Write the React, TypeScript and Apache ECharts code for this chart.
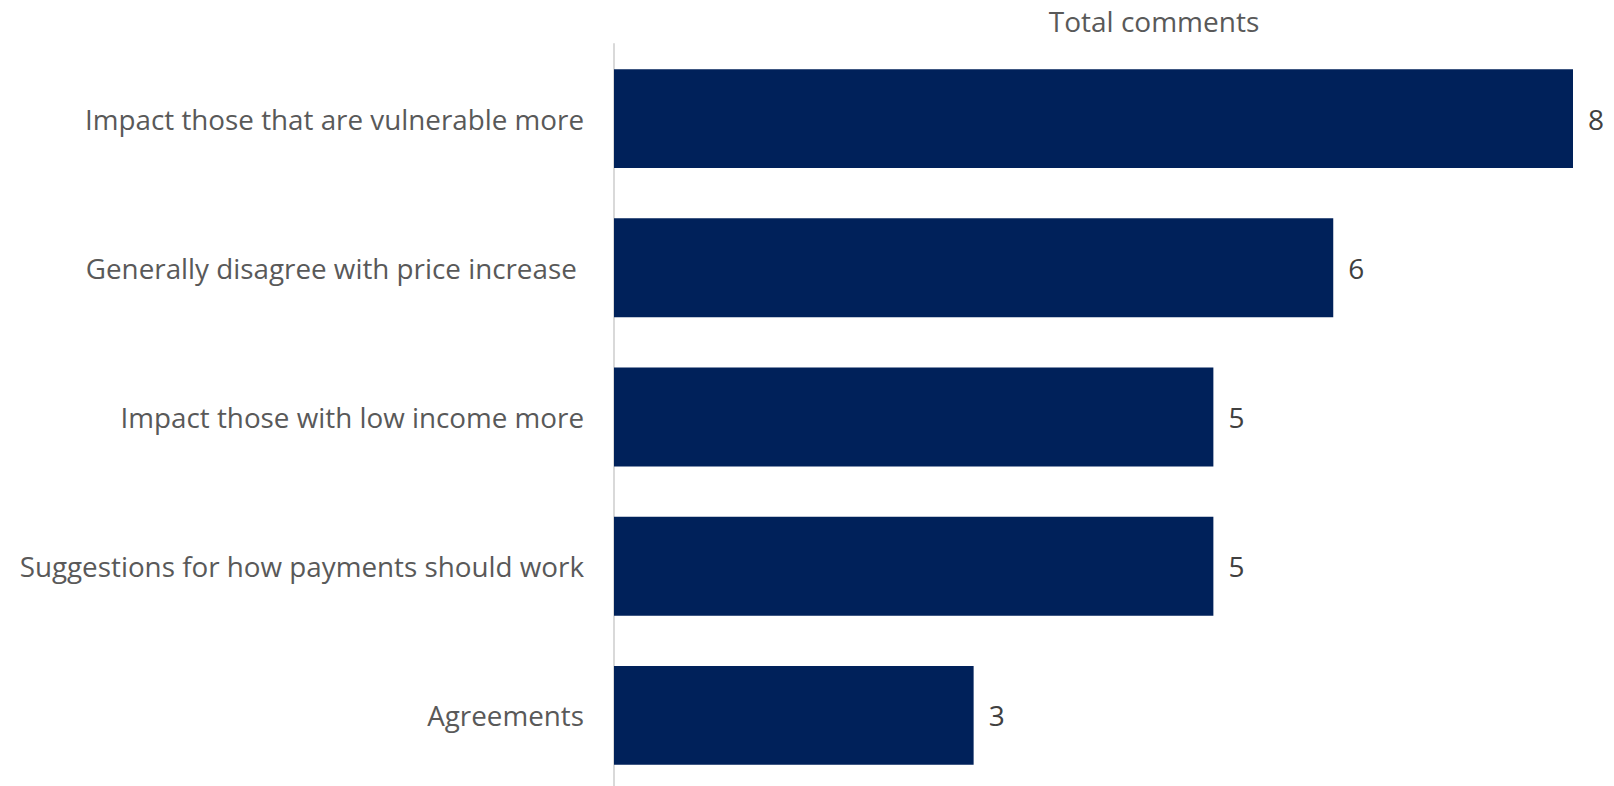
import React, { useEffect, useRef } from "react";
import * as echarts from "echarts";

const categories = [
  "Impact those that are vulnerable more",
  "Generally disagree with price increase ",
  "Impact those with low income more",
  "Suggestions for how payments should work",
  "Agreements",
];
const values = [8, 6, 5, 5, 3];
const titleText = "Total comments";

export default function App() {
  const ref = useRef<HTMLDivElement>(null);
  useEffect(() => {
    if (!ref.current) return;
    const chart = echarts.init(ref.current, undefined, { renderer: "svg" });
    const font = "'Open Sans', 'Noto Sans', sans-serif";
    chart.setOption({
      animation: false,
      title: {
        text: titleText,
        left: 1149,
        top: 2,
        textAlign: "center",
        textStyle: { color: "#595959", fontSize: 28, fontWeight: "normal", fontFamily: font },
      },
      grid: { left: 614, top: 44, width: 959, height: 746, containLabel: false },
      xAxis: {
        type: "value",
        min: 0,
        max: 8,
        show: false,
      },
      yAxis: {
        type: "category",
        data: categories,
        inverse: true,
        axisLine: { show: true, lineStyle: { color: "#d9d9d9", width: 2 } },
        axisTick: { show: false },
        axisLabel: {
          color: "#595959",
          fontSize: 27.8,
          fontFamily: font,
          margin: 30,
        },
        splitLine: { show: false },
      },
      series: [
        {
          type: "bar",
          data: values,
          barCategoryGap: "33.7%",
          itemStyle: { color: "#00215A" },
          label: {
            show: true,
            position: "right",
            distance: 15,
            color: "#404040",
            fontSize: 28,
            fontFamily: font,
          },
        },
      ],
    });
    return () => chart.dispose();
  }, []);
  return (
    <div style={{ position: "fixed", left: 0, top: 0, width: 1614, height: 786, overflow: "hidden", background: "#fff" }}>
      <div ref={ref} style={{ width: 1614, height: 800 }} />
    </div>
  );
}
